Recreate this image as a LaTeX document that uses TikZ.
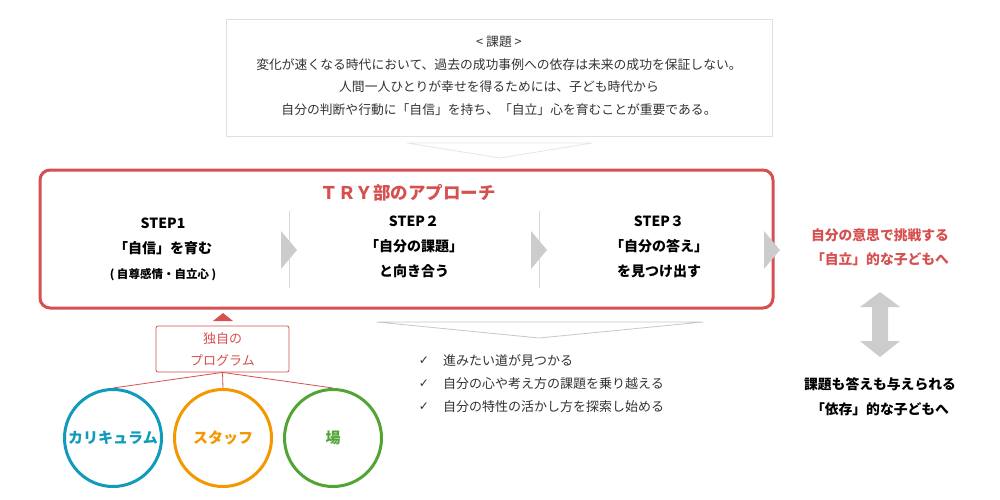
\documentclass[tikz,border=0pt]{standalone}
\usepackage{fontspec}
\setmainfont{Noto Sans CJK JP}
\newfontfamily\symfont{DejaVu Sans}
\usetikzlibrary{calc}
\definecolor{tryred}{RGB}{214,80,80}
\definecolor{teal}{RGB}{16,155,187}
\definecolor{orng}{RGB}{243,152,0}
\definecolor{grn}{RGB}{82,165,52}
\definecolor{txtgray}{RGB}{51,51,51}
\begin{document}
\begin{tikzpicture}[x=1pt,y=-1pt,
  txt/.style={align=center,inner sep=0pt},
  stp/.style={txt,font=\fontsize{14}{25}\selectfont\bfseries},
  circ/.style={circle,line width=3pt,minimum size=97pt,inner sep=0pt,
    font=\fontsize{15}{18}\selectfont\bfseries}]
\useasboundingbox (0,0) rectangle (1000,500);
% issue
\draw [black!12,line width=0.8pt] (226,19) rectangle (772,136);
\node[txt,text=txtgray,font=\fontsize{12.8}{22.5}\selectfont] (I) at (499,76)
  {< 課題 >\\変化が速くなる時代において、過去の成功事例への依存は未来の成功を保証しない。\\
   人間一人ひとりが幸せを得るためには、子ども時代から\\
   自分の判断や行動に「自信」を持ち、「自立」心を育むことが重要である。};
\draw [black!10,line width=0.8pt] (407,143) -- (500,158) -- (592,143) -- cycle;
% approach
\draw [tryred,line width=3pt,rounded corners=10pt] (40,170) rectangle (773,308);
\node[txt,text=tryred,font=\fontsize{17.5}{20}\selectfont\bfseries] (T) at (408,193) {ＴＲＹ部のアプローチ};
\node[stp] (S1) at (163,249) {STEP1\\「自信」を育む\\{\fontsize{11.5}{25}\selectfont ( 自尊感情・自立心 )}};
\node[stp] (S2) at (414,246.5) {STEP２\\「自分の課題」\\と向き合う};
\node[stp] (S3) at (659,246.5) {STEP３\\「自分の答え」\\を見つけ出す};
\foreach \x in {289,539}
	\draw [black!15,line width=0.8pt] (\x,211) -- (\x,288);
\foreach \x in {281,531,764}
	\fill [black!20] (\x,231) -- (\x+16,250) -- (\x,269) -- cycle;
% results
\node[txt,text=tryred,font=\fontsize{13.8}{24}\selectfont\bfseries] (R) at (880,247)
  {自分の意思で挑戦する\\「自立」的な子どもへ};
\node[txt,font=\fontsize{13.8}{25}\selectfont\bfseries] (D) at (880,396.5)
  {課題も答えも与えられる\\「依存」的な子どもへ};
\fill [black!20] (880,292) -- (900,307) -- (888,307) -- (888,341) -- (900,341)
  -- (880,357) -- (860,341) -- (872,341) -- (872,307) -- (860,307) -- cycle;
% program
\fill [tryred] (213,321) -- (223,313) -- (233,321) -- cycle;
\node[txt,draw=tryred,line width=0.8pt,rounded corners=2pt,text=tryred,
  minimum width=133pt,minimum height=46pt,font=\fontsize{13}{22}\selectfont] (P) at (222.5,349)
  {独自の\\プログラム};
\node[circ,draw=teal,text=teal] (C) at (113,438) {カリキュラム};
\node[circ,draw=orng,text=orng] (S) at (223,438) {スタッフ};
\node[circ,draw=grn,text=grn] (B) at (333,438) {場};
\foreach \c in {C,S,B}
	\draw [tryred,line width=0.8pt] (P.south) -- (\c.north);
% outcomes
\draw [black!22,line width=0.8pt] (377,322) -- (539,338) -- (703,322) -- cycle;
\foreach \t [count=\i] in {進みたい道が見つかる,自分の心や考え方の課題を乗り越える,自分の特性の活かし方を探索し始める}
{
	\node[txt,text=txtgray,font=\fontsize{12}{14}\selectfont\symfont] (K\i) at (424,338+23*\i) {✓};
	\node[txt,anchor=west,text=txtgray,font=\fontsize{13}{16}\selectfont] (L\i) at (443,338+23*\i) {\t};
}
\end{tikzpicture}
\end{document}
